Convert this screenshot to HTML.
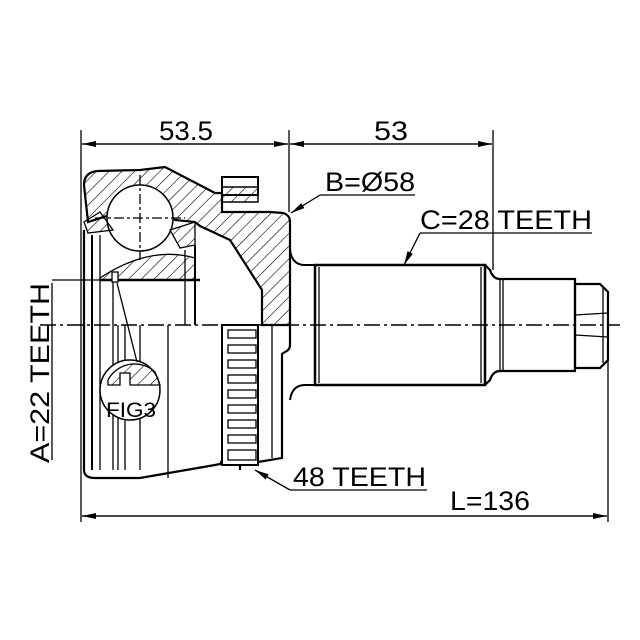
<!DOCTYPE html>
<html><head><meta charset="utf-8"><style>html,body{margin:0;padding:0;background:#fff}svg{display:block}</style></head>
<body>
<svg width="640" height="640" viewBox="0 0 640 640" xmlns="http://www.w3.org/2000/svg" font-family="Liberation Sans, sans-serif">
<defs>
<pattern id="h" width="9" height="9" patternUnits="userSpaceOnUse" patternTransform="rotate(45)">
<line x1="0" y1="0" x2="0" y2="9" stroke="#000" stroke-width="1.2"/>
</pattern>
<marker id="a" markerWidth="14" markerHeight="6" refX="14" refY="3" orient="auto" markerUnits="userSpaceOnUse">
<path d="M0,0 L14,3 L0,6 z" fill="#000"/></marker>
</defs>
<rect width="640" height="640" fill="#fff"/>
<g stroke="#000" fill="none" stroke-width="1.3">
<line x1="81" y1="130" x2="81" y2="522"/>
<line x1="289" y1="130" x2="289" y2="212"/>
<line x1="493" y1="130" x2="493" y2="270"/>
<line x1="608" y1="360" x2="608" y2="522"/>
<line x1="288" y1="144" x2="82" y2="144" marker-end="url(#a)"/>
<line x1="82" y1="144" x2="288" y2="144" marker-end="url(#a)"/>
<line x1="492" y1="144" x2="290" y2="144" marker-end="url(#a)"/>
<line x1="290" y1="144" x2="492" y2="144" marker-end="url(#a)"/>
<line x1="607" y1="516" x2="82" y2="516" marker-end="url(#a)"/>
<line x1="82" y1="516" x2="607" y2="516" marker-end="url(#a)"/>
<line x1="40" y1="325" x2="620" y2="325" stroke-dasharray="16,4,3,4" stroke-width="1.5"/>
<path d="M84,185 Q84,172 98,171 L140,170 L165,167 L215,193 L222,193 L222,212 L270,212 L283,213 Q290,215 290,222 L290,325 L262,325 L262,290 L230,240 L200,226 L195,222 L175,220 L160,205 L110,215 L88,222 Z" fill="url(#h)" stroke-width="2.2"/>
<path d="M84,230 L84,470 Q84,478 95,478 L140,478 L215,465 L240,460 L240,470" stroke-width="2.2"/>
<path d="M290,325 L290,345 Q290,350 285,352 L282,354 L282,458 L258,462 L220,462" stroke-width="2.2"/>
<rect x="222" y="177" width="36" height="18" fill="#fff" stroke-width="2"/>
<rect x="222" y="187" width="36" height="15" fill="url(#h)" stroke-width="1.5"/>
<circle cx="140" cy="218" r="33" fill="#fff" stroke-width="1.5"/>
<line x1="140" y1="175" x2="140" y2="260" stroke-dasharray="10,3,3,3"/>
<line x1="95" y1="218" x2="185" y2="218" stroke-dasharray="10,3,3,3"/>
<path d="M100,278 Q150,245 195,258 L195,280 L100,280 Z" fill="url(#h)"/>
<path d="M84,222 L100,212 L113,230 L88,233 Z" fill="url(#h)"/>
<path d="M170,230 L195,222 L195,245 L180,248 Z" fill="url(#h)"/>
<line x1="100" y1="280" x2="200" y2="280" stroke-width="2.5"/>
<line x1="92" y1="235" x2="92" y2="470" stroke-width="2"/>
<line x1="100" y1="235" x2="100" y2="470"/>
<line x1="113" y1="280" x2="113" y2="470"/>
<line x1="118" y1="325" x2="118" y2="470"/>
<line x1="125" y1="325" x2="125" y2="470"/>
<line x1="185" y1="250" x2="185" y2="325"/>
<line x1="195" y1="245" x2="195" y2="325" stroke-width="2"/>
<line x1="140" y1="325" x2="140" y2="470"/>
<line x1="168" y1="325" x2="168" y2="478"/>
<line x1="272" y1="325" x2="272" y2="458"/>
<rect x="112" y="272" width="6" height="10" fill="#fff"/>
<rect x="222" y="325" width="36" height="140" fill="#fff" stroke-width="2"/>
<g stroke-width="1.3">
<rect x="228" y="330" width="28" height="8"/><rect x="228" y="345" width="28" height="8"/>
<rect x="228" y="360" width="28" height="8"/><rect x="228" y="375" width="28" height="8"/>
<rect x="228" y="390" width="28" height="8"/><rect x="228" y="405" width="28" height="8"/>
<rect x="228" y="420" width="28" height="8"/><rect x="228" y="435" width="28" height="8"/>
<rect x="228" y="450" width="28" height="10"/>
</g>
<circle cx="130" cy="390" r="30" fill="#fff" stroke-width="1.5"/>
<path d="M108,380 A30,30 0 0 1 155,372 L160,385 L130,385 L130,373 L120,373 L120,385 L108,385 Z" fill="url(#h)"/>
<line x1="117" y1="283" x2="137" y2="362"/>
<line x1="52" y1="280" x2="112" y2="280"/>
<path d="M290,250 Q292,265 305,265 L315,265 L315,385 L305,385 Q292,385 290,400" stroke-width="2"/>
<rect x="315" y="265" width="170" height="120" stroke-width="2.5"/>
<line x1="319" y1="267" x2="319" y2="383"/>
<line x1="481" y1="267" x2="481" y2="383"/>
<path d="M485,265 L490,270 Q493,279 500,279 L575,279 L575,371 L500,371 Q493,371 490,380 L485,385" stroke-width="2.2"/>
<line x1="500" y1="279" x2="500" y2="371"/>
<line x1="503" y1="279" x2="503" y2="371"/>
<path d="M575,284 L600,284 L608,292 L608,360 L600,368 L575,368 Z" stroke-width="2.2"/>
<line x1="603" y1="288" x2="603" y2="363"/>
<path d="M575,315 L608,313 M575,335 L608,337"/>
<line x1="320" y1="195" x2="415" y2="195"/>
<line x1="320" y1="195" x2="291" y2="213" marker-end="url(#a)"/>
<line x1="420" y1="233" x2="592" y2="233"/>
<line x1="420" y1="233" x2="404" y2="265" marker-end="url(#a)"/>
<line x1="290" y1="490" x2="427" y2="490"/>
<line x1="290" y1="490" x2="255" y2="470" marker-end="url(#a)"/>
<line x1="52" y1="283" x2="52" y2="460"/>
</g>
<g font-size="27" fill="#000">
<text x="159" y="140" textLength="54" lengthAdjust="spacingAndGlyphs">53.5</text>
<text x="374" y="140" textLength="34" lengthAdjust="spacingAndGlyphs">53</text>
<text x="325" y="191" textLength="90" lengthAdjust="spacingAndGlyphs">B=Ø58</text>
<text x="420" y="229" textLength="172" lengthAdjust="spacingAndGlyphs">C=28 TEETH</text>
<text x="293" y="486" textLength="133" lengthAdjust="spacingAndGlyphs">48 TEETH</text>
<text x="450" y="510" textLength="80" lengthAdjust="spacingAndGlyphs">L=136</text>
<text transform="translate(49,463) rotate(-90)" textLength="180" lengthAdjust="spacingAndGlyphs">A=22 TEETH</text>
<text x="106" y="417" font-size="21" textLength="50" lengthAdjust="spacingAndGlyphs">FIG3</text>
</g>
</svg>
</body></html>
